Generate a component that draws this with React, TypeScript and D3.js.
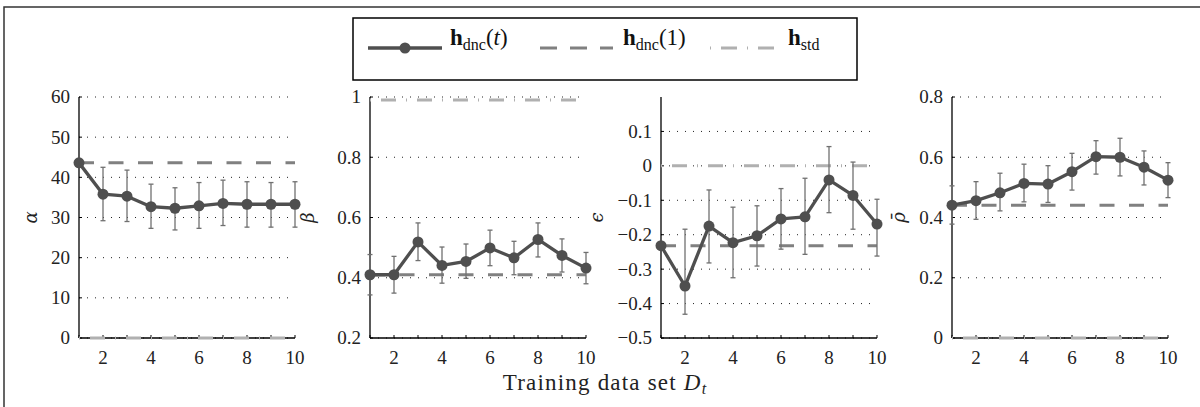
import React from "react";
import * as d3 from "d3";

// ---------- DATA ----------
const trainingSets = [1, 2, 3, 4, 5, 6, 7, 8, 9, 10];
const xTickLabels = [2, 4, 6, 8, 10];

// alpha
const alphaMean = [43.6, 35.8, 35.3, 32.7, 32.3, 32.9, 33.5, 33.3, 33.3, 33.3];
const alphaUpper = [null, 42.5, 41.8, 38.3, 37.4, 38.7, 39.3, 38.9, 38.7, 38.9];
const alphaLower = [null, 29.2, 29.0, 27.3, 26.9, 27.3, 28.0, 27.6, 27.6, 27.6];
const alphaDnc1 = 43.6;
const alphaStd = 0;
const alphaTicks = [0, 10, 20, 30, 40, 50, 60];

// beta
const betaMean = [0.41, 0.41, 0.519, 0.441, 0.454, 0.499, 0.466, 0.527, 0.474, 0.432];
const betaUpper = [0.477, 0.471, 0.582, 0.502, 0.512, 0.558, 0.521, 0.582, 0.529, 0.484];
const betaLower = [0.343, 0.349, 0.457, 0.382, 0.398, 0.44, 0.41, 0.469, 0.419, 0.38];
const betaDnc1 = 0.41;
const betaStd = 0.99;
const betaTicks = [0.2, 0.4, 0.6, 0.8, 1];

// epsilon
const epsMean = [-0.232, -0.349, -0.175, -0.223, -0.203, -0.154, -0.148, -0.041, -0.086, -0.169];
const epsUpper = [null, -0.184, -0.07, -0.12, -0.116, -0.066, -0.036, 0.056, 0.011, -0.097];
const epsLower = [null, -0.431, -0.282, -0.325, -0.291, -0.242, -0.257, -0.136, -0.184, -0.262];
const epsDnc1 = -0.232;
const epsStd = 0;
const epsTicks = [-0.5, -0.4, -0.3, -0.2, -0.1, 0, 0.1];

// rho bar
const rhoMean = [0.441, 0.456, 0.482, 0.513, 0.511, 0.552, 0.602, 0.6, 0.567, 0.524];
const rhoUpper = [0.505, 0.519, 0.547, 0.577, 0.572, 0.613, 0.655, 0.663, 0.621, 0.582];
const rhoLower = [0.378, 0.394, 0.422, 0.452, 0.45, 0.491, 0.544, 0.538, 0.508, 0.466];
const rhoDnc1 = 0.441;
const rhoStd = 0;
const rhoTicks = [0, 0.2, 0.4, 0.6, 0.8];

const legendLabels = ["dnc(t)", "dnc(1)", "std"];
const xAxisLabel = "Training data set ";

// ---------- PANELS ----------
const panels = [
  { label: "α", mean: alphaMean, upper: alphaUpper, lower: alphaLower, dnc1: alphaDnc1, std: alphaStd, ticks: alphaTicks, domain: [0, 60], left: 79, labelOff: 47 },
  { label: "β", mean: betaMean, upper: betaUpper, lower: betaLower, dnc1: betaDnc1, std: betaStd, ticks: betaTicks, domain: [0.2, 1], left: 370, labelOff: 61 },
  { label: "ϵ", mean: epsMean, upper: epsUpper, lower: epsLower, dnc1: epsDnc1, std: epsStd, ticks: epsTicks, domain: [-0.5, 0.2], left: 661, labelOff: 63 },
  { label: "ρ\u0304", mean: rhoMean, upper: rhoUpper, lower: rhoLower, dnc1: rhoDnc1, std: rhoStd, ticks: rhoTicks, domain: [0, 0.8], left: 952, labelOff: 52 },
];

const W = 1200;
const H = 407;
const PW = 216;
const TOP = 97;
const BOTTOM = 338;

const MAIN = "#4f4f4f";
const DNC1 = "#808080";
const STD = "#b0b0b0";
const ERR = "#707070";
const SERIF = "Liberation Serif, DejaVu Serif, serif";

const fmt = (v: number) => {
  const s = d3.format("")(+v.toFixed(2));
  return s.replace("-", "\u2212");
};

function Panel({ p }: { p: any }) {
  const x = d3.scaleLinear().domain([1, 10]).range([p.left, p.left + PW]);
  const y = d3.scaleLinear().domain(p.domain).range([BOTTOM, TOP]);
  const line = d3
    .line<number>()
    .x((_, i) => x(trainingSets[i]))
    .y((d) => y(d));
  const x0 = x(1);
  const x1 = x(10);
  return (
    <g>
      {p.ticks.map((t: number) => (
        <line key={"g" + t} x1={x0} x2={x1} y1={y(t)} y2={y(t)} stroke="#222" strokeWidth={1} strokeDasharray="1,7" />
      ))}
      <line x1={x0} x2={x0} y1={y(p.domain[1])} y2={y(p.domain[0])} stroke="#000" strokeWidth={1.3} />
      <line x1={x0} x2={x1} y1={BOTTOM} y2={BOTTOM} stroke="#000" strokeWidth={1.3} />
      {p.ticks.map((t: number) => (
        <line key={"yt" + t} x1={x0} x2={x0 + 3} y1={y(t)} y2={y(t)} stroke="#000" strokeWidth={1} />
      ))}
      {trainingSets.map((t) => (
        <line key={"xt" + t} x1={x(t)} x2={x(t)} y1={BOTTOM} y2={BOTTOM - 3} stroke="#000" strokeWidth={1} />
      ))}
      {p.ticks.map((t: number) => (
        <text key={"yl" + t} x={x0 - 9} y={y(t)} dy="0.34em" textAnchor="end" fontFamily={SERIF} fontSize={19} fill="#222">
          {fmt(t)}
        </text>
      ))}
      {xTickLabels.map((t) => (
        <text key={"xl" + t} x={x(t)} y={364} textAnchor="middle" fontFamily={SERIF} fontSize={19} fill="#222">
          {t}
        </text>
      ))}
      <text
        transform={`translate(${x0 - p.labelOff},${(TOP + BOTTOM) / 2}) rotate(-90)`}
        textAnchor="middle"
        dy="0.3em"
        fontFamily="DejaVu Serif, serif"
        fontStyle="italic"
        fontSize={18}
        fill="#222"
      >
        {p.label}
      </text>
      <line x1={x0} x2={x1} y1={y(p.std)} y2={y(p.std)} stroke={STD} strokeWidth={3} strokeDasharray="1,10,15,10" />
      <line x1={x0} x2={x1} y1={y(p.dnc1)} y2={y(p.dnc1)} stroke={DNC1} strokeWidth={3} strokeDasharray="15,14.5" />
      {trainingSets.map((t, i) =>
        p.upper[i] == null ? null : (
          <g key={"e" + t} stroke={ERR} strokeWidth={1.3}>
            <line x1={x(t)} x2={x(t)} y1={y(p.upper[i])} y2={y(p.lower[i])} />
            <line x1={x(t) - 2.5} x2={x(t) + 2.5} y1={y(p.upper[i])} y2={y(p.upper[i])} />
            <line x1={x(t) - 2.5} x2={x(t) + 2.5} y1={y(p.lower[i])} y2={y(p.lower[i])} />
          </g>
        )
      )}
      <path d={line(p.mean) || ""} fill="none" stroke={MAIN} strokeWidth={3.3} strokeLinejoin="round" />
      {p.mean.map((v: number, i: number) => (
        <circle key={"m" + i} cx={x(trainingSets[i])} cy={y(v)} r={5.5} fill={MAIN} />
      ))}
    </g>
  );
}

function LegendLabel({ x, sub, tail }: { x: number; sub: string; tail: React.ReactNode }) {
  return (
    <text x={x} y={45} fontFamily={SERIF} fontSize={23} fill="#111">
      <tspan fontWeight="bold">h</tspan>
      <tspan fontSize={16} dy={5}>{sub}</tspan>
      {tail}
    </text>
  );
}

export default function App() {
  const [l0, l1, l2] = legendLabels;
  return (
    <svg width={W} height={H} style={{ position: "absolute", left: 0, top: 0, background: "#fff" }}>
      <rect x={0} y={0} width={W} height={H} fill="#fff" />
      <rect x={4} y={7} width={W + 100} height={H + 100} fill="none" stroke="#333" strokeWidth={1.5} />
      <rect x={353} y={18} width={504} height={62} fill="#fff" stroke="#000" strokeWidth={1.5} />
      <line x1={368} x2={442} y1={48} y2={48} stroke={MAIN} strokeWidth={3.3} />
      <circle cx={405} cy={48} r={5.5} fill={MAIN} />
      <LegendLabel x={450} sub={l0.slice(0, 3)} tail={<><tspan dy={-5}>(</tspan><tspan fontStyle="italic">t</tspan><tspan>)</tspan></>} />
      <line x1={540} x2={613} y1={48} y2={48} stroke={DNC1} strokeWidth={3} strokeDasharray="17,13" />
      <LegendLabel x={623} sub={l1.slice(0, 3)} tail={<tspan dy={-5}>(1)</tspan>} />
      <line x1={710} x2={783} y1={48} y2={48} stroke={STD} strokeWidth={3} strokeDasharray="1,10,16,10" />
      <LegendLabel x={788} sub={l2} tail={null} />
      {panels.map((p, i) => (
        <Panel key={i} p={p} />
      ))}
      <text x={605} y={390} textAnchor="middle" fontFamily={SERIF} fontSize={23} letterSpacing={1.2} fill="#222">
        {xAxisLabel}
        <tspan fontStyle="italic">D</tspan>
        <tspan fontStyle="italic" fontSize={16} dy={4}>t</tspan>
      </text>
    </svg>
  );
}
